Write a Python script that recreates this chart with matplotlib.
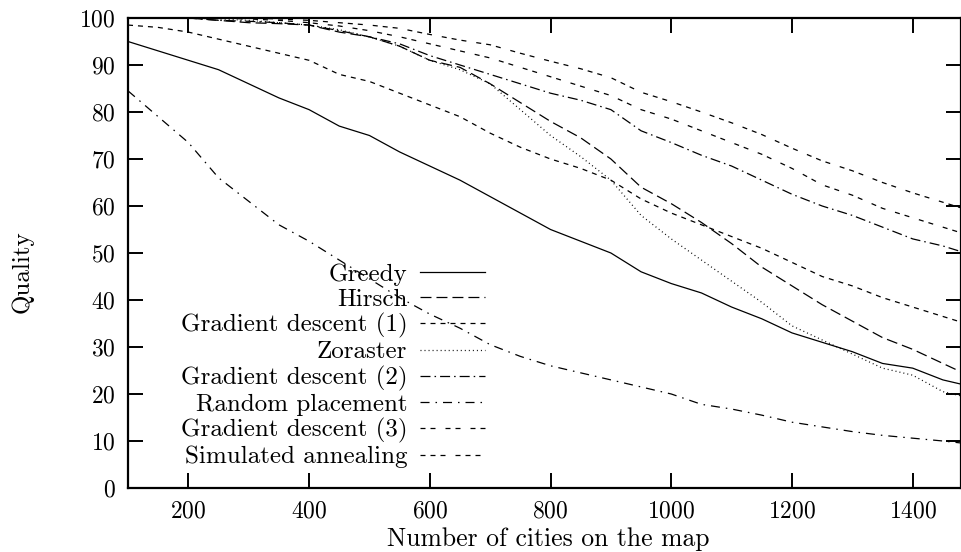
import numpy as np
import matplotlib
matplotlib.use("Agg")
import matplotlib.pyplot as plt

plt.rcParams['font.family'] = ['cmr10', 'DejaVu Serif']
plt.rcParams['axes.formatter.use_mathtext'] = True
plt.rcParams['lines.scale_dashes'] = False

# Number of cities (x) and quality of each method
cities = [100, 150, 200, 250, 300, 350, 400, 450, 500, 550, 600, 650, 700, 750, 800,
          850, 900, 950, 1000, 1050, 1100, 1150, 1200, 1250, 1300, 1350, 1400, 1450, 1500]

greedy = [95, 93, 91, 89, 86, 83, 80.5, 77, 75, 71.5, 68.5, 65.5, 62, 58.5, 55,
          52.5, 50, 46, 43.5, 41.5, 38.5, 36, 33, 31, 29, 26.5, 25.5, 23, 21.5]
hirsch = [100, 100, 100, 99.5, 99, 98.8, 98.5, 97, 96, 94, 91, 89.5, 86, 82, 78,
          74.5, 70, 64, 60.5, 56.5, 52, 47, 43, 39, 35.5, 32, 29.5, 26.5, 23.5]
grad1 = [98.5, 98, 97, 95.5, 94, 92.5, 91, 88, 86.5, 84, 81.5, 79, 75.5, 72.5, 70,
         68, 65.5, 61.5, 58.5, 56, 53.5, 51, 48, 45, 43, 40.5, 38.5, 36.5, 34.5]
zoraster = [100, 100, 100, 99.8, 99.5, 99, 98.5, 97.5, 96, 94, 91, 89, 86, 80.5, 75,
            70.5, 65.5, 58, 53, 48.5, 44, 39.5, 34.5, 31.5, 28.5, 25.5, 24, 20.5, 19]
grad2 = [100, 100, 100, 99.5, 99.3, 99, 98.5, 97.3, 96, 94.5, 92, 90, 88, 86, 84,
         82.5, 80.5, 76, 73.5, 70.8, 68.5, 65.5, 62.5, 60, 58, 55.5, 53, 51.5, 49.5]
random_pl = [84.5, 79, 73.5, 66, 61, 56, 52.5, 48.5, 44.5, 40.5, 37, 34, 30.5, 28, 26,
             24.5, 23, 21.5, 20, 17.8, 16.8, 15.5, 14, 13, 12, 11.2, 10.6, 10, 9.3]
grad3 = [100, 100, 100, 100, 99.8, 99.5, 99, 98.3, 97.3, 96, 94.5, 93, 91.5, 89.5, 87.5,
         85.5, 83.5, 80.5, 78.5, 76, 73.5, 71, 68, 64.5, 62.3, 59.5, 57.5, 55.5, 53.5]
annealing = [100, 100, 100, 100, 100, 99.8, 99.5, 99, 98.5, 97.8, 96.5, 95.3, 94.3, 92.5, 90.8,
             89.2, 87.3, 84.2, 82.2, 80, 77.7, 75.2, 72.3, 69.6, 67.5, 65, 62.8, 60.8, 58.8]

labels = ['Greedy', 'Hirsch', 'Gradient descent (1)', 'Zoraster', 'Gradient descent (2)',
          'Random placement', 'Gradient descent (3)', 'Simulated annealing']
series = [greedy, hirsch, grad1, zoraster, grad2, random_pl, grad3, annealing]
# dash patterns in points, roughly like the gnuplot line types
dashes = [None, (7.9, 3.6), (3.6, 3.6), (0.7, 2.2), (7.2, 2.9, 1.1, 2.9),
          (6.5, 4.3, 1.1, 4.3), (3.6, 3.6, 3.6, 7.2), (3.6, 3.6, 3.6, 3.6, 3.6, 7.2)]

fig = plt.figure(figsize=(9.62, 5.52), dpi=100)
ax = fig.add_axes([128 / 962, 64 / 552, 833 / 962, 470 / 552])

for ys, lab, d in zip(series, labels, dashes):
    if d is None:
        ax.plot(cities, ys, color='black', lw=0.9, label=lab)
    else:
        ax.plot(cities, ys, color='black', lw=0.9, dashes=d, label=lab)

ax.set_xlim(100, 1480)
ax.set_ylim(0, 100)
ax.set_xticks([200, 400, 600, 800, 1000, 1200, 1400])
ax.set_yticks(np.arange(0, 101, 10))
ax.tick_params(direction='in', length=11, width=1.4, top=True, right=True,
               labelsize=17, pad=9)
for s in ax.spines.values():
    s.set_linewidth(1.6)

ax.set_xlabel('Number of cities on the map', fontsize=18.5)
ax.set_ylabel('Quality', fontsize=18)
ax.xaxis.set_label_coords(0.505, -0.083)
ax.yaxis.set_label_coords(-0.113, 0.46)

# markerfirst=False: text on the left, right aligned, line sample after it
leg = ax.legend(loc='lower right', bbox_to_anchor=(0.429, 0.0415), frameon=False,
                markerfirst=False, fontsize=18, handlelength=2.6, handletextpad=0.52,
                labelspacing=0.1, borderpad=0, borderaxespad=0)

fig.savefig('out.png', dpi=100)
